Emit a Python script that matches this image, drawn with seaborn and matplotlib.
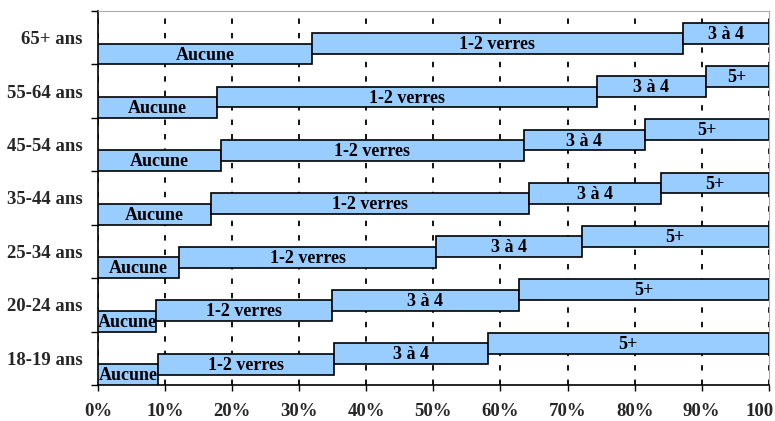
import numpy as np
import seaborn as sns
import matplotlib.pyplot as plt
from matplotlib.ticker import FuncFormatter, FixedLocator

ages = ["18-19 ans", "20-24 ans", "25-34 ans", "35-44 ans", "45-54 ans", "55-64 ans", "65+ ans"]
categories = ["Aucune", "1-2 verres", "3 à 4", "5+"]
aucune = [8.9, 8.6, 12.1, 16.8, 18.3, 17.7, 31.9]
un_deux = [26.3, 26.3, 38.3, 47.4, 45.2, 56.7, 55.3]
trois_quatre = [22.9, 27.8, 21.7, 19.7, 18.0, 16.2, 12.8]
cinq_plus = [41.9, 37.3, 27.9, 16.1, 18.5, 9.4, 0.0]

sns.set_theme(style="white")
plt.rcParams["font.family"] = ["Liberation Serif", "DejaVu Serif"]
plt.rcParams["font.weight"] = "bold"

fig = plt.figure(figsize=(7.75, 4.21), dpi=100)
ax = fig.add_axes([0.1265, 0.0855, 0.8655, 0.8885])

series = [aucune, un_deux, trois_quatre, cinq_plus]
step = 0.195
height = 0.39
left = np.zeros(len(ages))
pos = np.arange(len(ages))

for j, (name, vals) in enumerate(zip(categories, series)):
    vals = np.array(vals)
    bottom = pos + j * step
    keep = vals > 0
    ax.barh(bottom[keep], vals[keep], height=height, left=left[keep], align="edge",
            color="#99CCFF", edgecolor="black", linewidth=1.2, zorder=3)
    for b, l, w in zip(bottom, left, vals):
        if w > 2:
            ax.text(l + w / 2, b + height / 2 - 0.02, name, ha="center", va="center",
                    fontsize=13, fontweight="bold", color="black", zorder=4)
    left = left + vals

ax.set_xlim(0, 100)
ax.set_ylim(0, len(ages))

ax.xaxis.set_major_locator(FixedLocator(np.arange(0, 101, 10)))
ax.xaxis.set_major_formatter(FuncFormatter(lambda x, p: f"{int(x)}%"))
ax.grid(axis="x", color="black", linestyle=(0, (3, 5)), linewidth=1.3, zorder=0)
ax.grid(axis="y", visible=False)

ax.set_yticks(np.arange(0, len(ages) + 1))
ax.set_yticklabels([])
ax.set_yticks(pos + 0.5, minor=True)
ax.set_yticklabels(ages, minor=True)
ax.tick_params(axis="y", which="major", length=5, width=1, color="black", direction="out", left=True)
ax.tick_params(axis="y", which="minor", length=0, labelsize=13.5, pad=11)
ax.tick_params(axis="x", length=4, width=1, color="black", direction="out", bottom=True,
               labelsize=13.5, pad=9)
for lab in ax.get_yticklabels(minor=True) + ax.get_xticklabels():
    lab.set_fontweight("bold")

ax.spines["left"].set_color("black")
ax.spines["bottom"].set_color("black")
ax.spines["left"].set_linewidth(1.2)
ax.spines["bottom"].set_linewidth(1.2)
ax.spines["top"].set_color("#AAAAAA")
ax.spines["right"].set_color("#AAAAAA")
ax.spines["top"].set_linewidth(0.8)
ax.spines["right"].set_linewidth(0.8)
ax.set_xlabel("")
ax.set_ylabel("")

fig.savefig("out.png", dpi=100)
